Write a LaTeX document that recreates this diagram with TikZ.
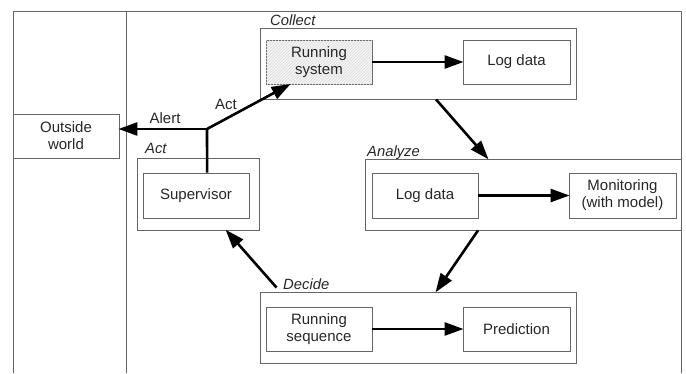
\documentclass[tikz,border=0pt]{standalone}
\usepackage{fontspec}
\setmainfont{Liberation Sans}
\usetikzlibrary{arrows.meta,patterns,calc}
\begin{document}
\begin{tikzpicture}[x=1pt,y=-1pt,
  frame/.style={draw=black!60, line width=0.9pt},
  box/.style={draw=black!60, line width=0.9pt, rectangle, inner sep=0pt, align=center,
    font=\fontsize{15}{17}\selectfont, text=black!85},
  stage/.style={draw=black!60, line width=0.9pt, rectangle, inner sep=0pt},
  lbl/.style={font=\fontsize{14.8}{17}\selectfont\itshape, text=black!85, inner sep=0pt, anchor=base west},
  tlbl/.style={font=\fontsize{15}{17}\selectfont, text=black!85, inner sep=0pt},
  flow/.style={line width=2.6pt, -{Triangle[length=19pt,width=13pt]}, shorten >=-1pt}
]
\useasboundingbox (0,0) rectangle (686,373);
% outer frame
\draw[frame] (13,373) -- (13,11) -- (681,11) -- (681,373);
\draw[frame] (126,11) -- (126,373);

% stage boxes
\node[stage, minimum width=316pt, minimum height=71pt] (collect) at (418,63.5) {};
\node[stage, minimum width=122pt, minimum height=72pt] (act) at (198,194) {};
\node[stage, minimum width=316pt, minimum height=71pt] (analyze) at (523,194.5) {};
\node[stage, minimum width=316pt, minimum height=71pt] (decide) at (418,327.5) {};

\node[lbl] (lcollect) at (270,25.5) {Collect};
\node[lbl] (lact) at (145,153) {Act};
\node[lbl] (lanalyze) at (367,156) {Analyze};
\node[lbl] (ldecide) at (283,289) {Decide};

% inner boxes
\node[box, minimum width=106pt, minimum height=44pt] (outside) at (66,136) {Outside\\world};
\node[box, minimum width=106pt, minimum height=44pt, fill=black!4,
  postaction={pattern=north east lines, pattern color=black!14}] (run) at (319,62) {};
\node[box, draw=none, minimum width=106pt, minimum height=44pt] (runtext) at (319,62) {Running\\system};
\node[box, minimum width=107pt, minimum height=44pt] (log1) at (516.5,62) {Log data};
\node[box, minimum width=106pt, minimum height=45pt] (sup) at (196,195.5) {Supervisor};
\node[box, minimum width=106pt, minimum height=45pt] (log2) at (425,195.5) {Log data};
\node[box, minimum width=107pt, minimum height=45pt] (mon) at (622.5,195.5) {Monitoring\\(with model)};
\node[box, minimum width=106pt, minimum height=44pt] (seq) at (319,329) {Running\\sequence};
\node[box, minimum width=107pt, minimum height=44pt] (pred) at (516.5,329) {Prediction};

% arrows inside stages
\draw[flow] (run.east) -- (log1.west);
\draw[flow] (log2.east) -- (mon.west);
\draw[flow] (seq.east) -- (pred.west);

% arrows between stages
\draw[flow] ($(collect.south west)!0.557!(collect.south east)$) -- ($(analyze.north west)!0.389!(analyze.north east)$);
\draw[flow] ($(analyze.south west)!0.358!(analyze.south east)$) -- ($(decide.north west)!0.557!(decide.north east)$);
\draw[flow] ($(decide.north west)+(17,-4)$) -- ($(act.south west)!0.73!(act.south east)$);

% supervisor outputs
\coordinate (j) at (207,129);
\draw[line width=2.6pt] ($(sup.north west)!0.604!(sup.north east)$) -- (j);
\draw[flow] (j) -- (j -| outside.east);
\draw[flow] (j) -- ($(run.south west)!0.226!(run.south east)$);
\node[tlbl] (alert) at (165,118) {Alert};
\node[tlbl] (actl) at (226,104.5) {Act};
\end{tikzpicture}
\end{document}
